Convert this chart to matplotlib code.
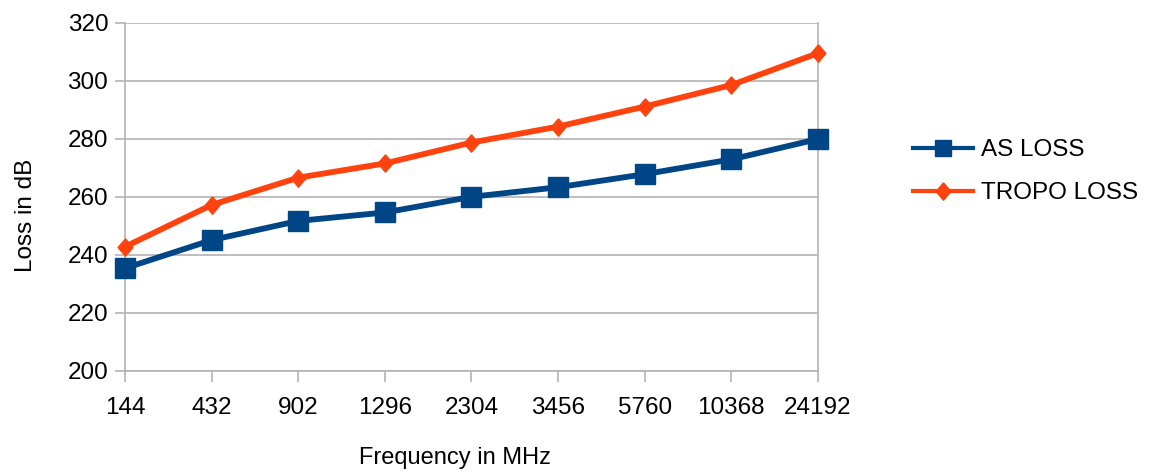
import matplotlib
matplotlib.use("Agg")
import matplotlib.pyplot as plt

# data
freqs = ["144", "432", "902", "1296", "2304", "3456", "5760", "10368", "24192"]
as_loss = [235.4, 245.1, 251.7, 254.6, 260.0, 263.3, 267.8, 272.9, 279.9]
tropo_loss = [242.8, 257.2, 266.6, 271.5, 278.7, 284.2, 291.1, 298.5, 309.5]
yticks = [200, 220, 240, 260, 280, 300, 320]

plt.rcParams['font.family'] = ['Liberation Sans', 'DejaVu Sans']

# slightly tall diamond, like the original
diamond = [(0, 1), (0.85, 0), (0, -1), (-0.85, 0), (0, 1)]

fig = plt.figure(figsize=(11.55, 4.72), dpi=100)
ax = fig.add_axes([0.1082, 0.214, 0.6, 0.738])

x = list(range(len(freqs)))
ax.plot(x, as_loss, color="#004586", linewidth=4.2, marker="s", markersize=14,
        label="AS LOSS", clip_on=False, zorder=3)
ax.plot(x, tropo_loss, color="#ff420e", linewidth=4.2, marker=diamond, markersize=12.5,
        label="TROPO LOSS", clip_on=False, zorder=3)

ax.set_xlim(0, len(freqs) - 1)
ax.set_ylim(200, 320)
ax.set_xticks(x)
ax.set_xticklabels(freqs)
ax.set_yticks(yticks)

ax.grid(axis="y", color="#b3b3b3", linewidth=1.2)
ax.set_axisbelow(True)
for s in ax.spines.values():
    s.set_color("#b3b3b3")
    s.set_linewidth(1.2)
ax.spines["top"].set_visible(False)
ax.tick_params(axis="both", colors="#b3b3b3", width=1.2,
               labelcolor="black", labelsize=17.5)
ax.tick_params(axis="x", length=8, pad=11)
ax.tick_params(axis="y", length=7, pad=5)

ax.set_xlabel("Frequency in MHz", fontsize=17)
ax.xaxis.set_label_coords(0.476, -0.218)
ax.set_ylabel("Loss in dB", fontsize=17.5)
ax.yaxis.set_label_coords(-0.127, 0.448)

leg = ax.legend(loc="center left", bbox_to_anchor=(1.105, 0.572), frameon=False,
                fontsize=17.5, handlelength=2.47, labelspacing=0.85, handletextpad=0.33)
for h in leg.legend_handles:
    h.set_linewidth(3)
leg.legend_handles[0].set_markersize(11.5)
leg.legend_handles[1].set_markersize(12.5)

fig.savefig("out.png", dpi=100)
